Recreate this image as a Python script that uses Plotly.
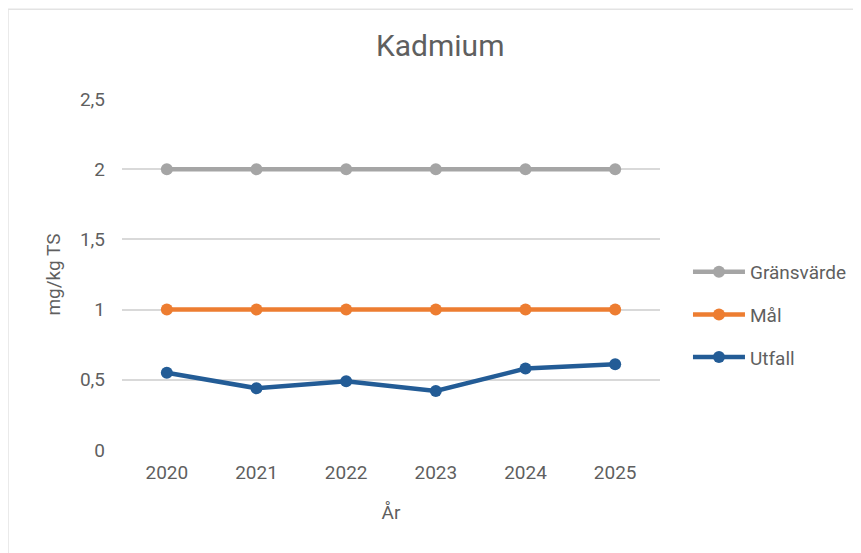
import plotly.graph_objects as go

years = ['2020', '2021', '2022', '2023', '2024', '2025']
gransvarde = [2, 2, 2, 2, 2, 2]
mal = [1, 1, 1, 1, 1, 1]
utfall = [0.55, 0.44, 0.49, 0.42, 0.58, 0.61]

y_ticks = [0, 0.5, 1, 1.5, 2, 2.5]
y_labels = ['0', '0,5', '1', '1,5', '2', '2,5']

COLOR_GRANS = '#A5A5A5'
COLOR_MAL = '#ED7D31'
COLOR_UTFALL = '#235C96'
TEXT = '#5F5F5F'
FONT = 'Roboto, sans-serif'

fig = go.Figure()
for name, vals, color in [('Gränsvärde', gransvarde, COLOR_GRANS),
                          ('Mål', mal, COLOR_MAL),
                          ('Utfall', utfall, COLOR_UTFALL)]:
    fig.add_trace(go.Scatter(
        name=name, x=years, y=vals, mode='lines+markers', legendgroup=name,
        line=dict(color=color, width=4.5),
        marker=dict(color=color, size=12),
    ))

# sidan har 8 px marginal i body, därför är marginalerna förskjutna
fig.update_layout(
    width=861, height=553,
    paper_bgcolor='white', plot_bgcolor='white',
    font=dict(family=FONT, color=TEXT, size=19),
    title=dict(text='Kadmium', x=0.502, xref='container', xanchor='center',
               y=0.932, yref='container', yanchor='middle',
               font=dict(size=30, color=TEXT, family=FONT)),
    margin=dict(l=114, r=209, t=91, b=111),
    showlegend=True,
    legend=dict(x=1.052, xanchor='left', y=0.385, yanchor='middle',
                font=dict(size=19, color=TEXT), itemwidth=52,
                tracegroupgap=15, bgcolor='rgba(0,0,0,0)'),
    xaxis=dict(type='category', range=[-0.5, 5.5], showgrid=False,
               showline=False, ticks='', ticklabelstandoff=9,
               tickfont=dict(size=19, color=TEXT),
               title=dict(text='År', font=dict(size=19, color=TEXT), standoff=22)),
    yaxis=dict(range=[0, 2.5], tickvals=y_ticks, ticktext=y_labels,
               showgrid=True, gridcolor='#D9D9D9', gridwidth=1.5,
               zeroline=False, showline=False, ticks='',
               ticklabelstandoff=16,
               tickfont=dict(size=19, color=TEXT),
               title=dict(text='mg/kg TS', font=dict(size=19, color=TEXT), standoff=14)),
    shapes=[
        dict(type='line', xref='paper', yref='paper', x0=-0.2119, x1=1.42,
             y0=1.256, y1=1.256, line=dict(color='#E3E3E3', width=1.5)),
        dict(type='line', xref='paper', yref='paper', x0=-0.2119, x1=-0.2119,
             y0=1.256, y1=-0.33, line=dict(color='#E3E3E3', width=1.5)),
    ],
)

fig.write_html('out.html')
